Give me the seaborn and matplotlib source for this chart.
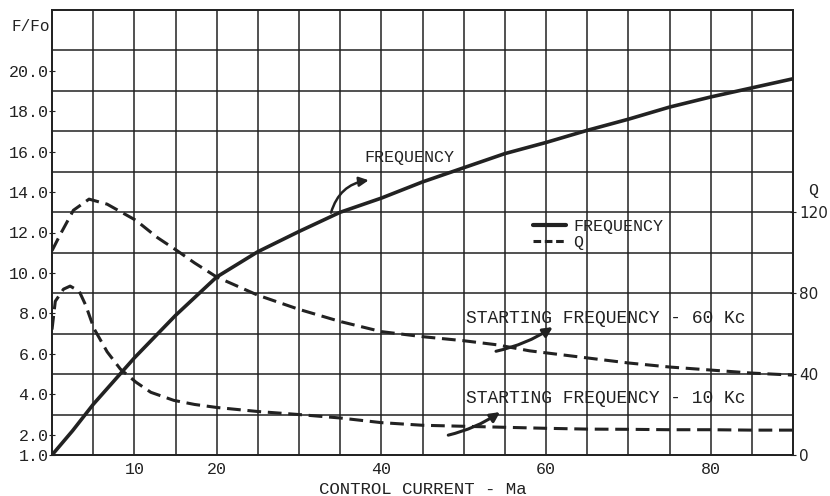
import matplotlib
matplotlib.use("Agg")
import matplotlib.pyplot as plt
import seaborn as sns
import pandas as pd
import numpy as np

sns.set_style("white")
plt.rcParams['font.family'] = ['Liberation Mono', 'DejaVu Sans']

# frequency ratio F/Fo vs control current (mA)
freq_x = [0, 2.5, 5, 10, 15, 20, 25, 30, 35, 40, 45, 50, 55, 60, 65, 70, 75, 80, 85, 90]
freq_f = [1.0, 2.2, 3.5, 5.8, 7.9, 9.8, 11.05, 12.05, 13.0, 13.7, 14.5, 15.2, 15.9,
          16.45, 17.05, 17.6, 18.2, 18.7, 19.15, 19.6]

# Q, starting frequency 60 Kc
q60_x = [0, 1.0, 2.6, 4.5, 6.7, 10.2, 12.8, 15.2, 17.3, 20, 25, 30, 35, 40, 45, 50,
         54, 58, 65, 70, 75, 80, 85, 90]
q60_q = [101, 109, 121, 126.5, 124, 116, 107.5, 101, 95, 88, 79, 72, 66, 61, 58.5,
         56.5, 54.5, 51.5, 48, 45.5, 43.5, 42, 40.5, 39.5]

# Q, starting frequency 10 Kc
q10_x = [0, 0.4, 1.4, 2.2, 3.3, 4.1, 5.1, 6.7, 8.3, 10.2, 12, 14.8, 17.3, 20, 25, 30,
         35, 40, 45, 50, 55, 60, 65, 70, 75, 80, 85, 90]
q10_q = [62, 76, 82, 83.5, 81, 74, 62.5, 51, 42.5, 36, 31, 27, 25, 23.5, 21.5, 20,
         18.3, 16, 14.7, 14.2, 13.7, 13.2, 12.8, 12.7, 12.5, 12.5, 12.3, 12.3]

left_ticks = [1, 2, 4, 6, 8, 10, 12, 14, 16, 18, 20]
right_ticks = [0, 40, 80, 120]
x_ticks = [10, 20, 40, 60, 80]

ink = "#222222"

df_f = pd.DataFrame({"current": freq_x, "ratio": freq_f})
df_q60 = pd.DataFrame({"current": q60_x, "Q": q60_q})
df_q10 = pd.DataFrame({"current": q10_x, "Q": q10_q})

fig = plt.figure(figsize=(8.3, 4.96), dpi=100)
ax = fig.add_axes([52 / 830, 1 - 455 / 496, (793 - 52) / 830, (455 - 10) / 496])
ax2 = ax.twinx()

ax.set_xlim(0, 90)
ax.set_ylim(1, 23)
ax2.set_ylim(0, 220)

# grid: every 5 mA, every 2 units of F/Fo (odd values)
for gx in np.arange(5, 90, 5):
    ax.axvline(gx, color=ink, lw=1.1, zorder=1)
for gy in np.arange(3, 23, 2):
    ax.axhline(gy, color=ink, lw=1.1, zorder=1)

sns.lineplot(data=df_f, x="current", y="ratio", ax=ax, color=ink, lw=2.6, zorder=3)
sns.lineplot(data=df_q60, x="current", y="Q", ax=ax2, color=ink, lw=2.2, zorder=3)
sns.lineplot(data=df_q10, x="current", y="Q", ax=ax2, color=ink, lw=2.2, zorder=3)
for ln in ax2.lines:
    ln.set_dashes((4.5, 2.2))

for a in (ax, ax2):
    for s in a.spines.values():
        s.set_color(ink)
        s.set_linewidth(1.3)

ax.set_xticks(x_ticks)
ax.set_xticklabels([str(v) for v in x_ticks], fontsize=12, color=ink)
ax.set_yticks(left_ticks)
ax.set_yticklabels(["%.1f" % v for v in left_ticks], fontsize=12, color=ink)
ax.tick_params(axis="y", direction="inout", length=5, pad=0, color=ink)
ax.tick_params(axis="x", length=0, pad=5)
ax2.set_yticks(right_ticks)
ax2.set_yticklabels([str(v) for v in right_ticks], fontsize=11, color=ink,
                    family=["DejaVu Sans"])
ax2.tick_params(axis="y", direction="inout", length=5, pad=2, color=ink)

ax.set_xlabel("CONTROL CURRENT - Ma", fontsize=12.5, color=ink, labelpad=4)
ax.set_ylabel("")
ax2.set_ylabel("")

ax.text(-0.003, 22.2, "F/Fo", transform=ax.get_yaxis_transform(), ha="right",
        va="center", fontsize=11.5, color=ink)
ax2.text(1.027, 131, "Q", transform=ax2.get_yaxis_transform(), ha="center",
         va="center", fontsize=12, color=ink)

# annotations
ax.annotate("", xy=(38.8, 14.6), xytext=(33.8, 12.85),
            arrowprops=dict(arrowstyle="-|>", color=ink, lw=1.8,
                            connectionstyle="arc3,rad=-0.35", mutation_scale=14))
ax.text(38.0, 15.7, "FREQUENCY", fontsize=12, color=ink, va="center", ha="left")

ax.annotate("", xy=(61.1, 7.4), xytext=(53.6, 6.1),
            arrowprops=dict(arrowstyle="-|>", color=ink, lw=2.2,
                            connectionstyle="arc3,rad=0.1", mutation_scale=14))
ax.text(50.3, 7.75, "STARTING FREQUENCY - 60 Kc", fontsize=13, color=ink,
        va="center", ha="left", zorder=5)

ax.annotate("", xy=(54.7, 3.2), xytext=(47.8, 1.95),
            arrowprops=dict(arrowstyle="-|>", color=ink, lw=2.2,
                            connectionstyle="arc3,rad=0.1", mutation_scale=14))
ax.text(50.3, 3.8, "STARTING FREQUENCY - 10 Kc", fontsize=13, color=ink,
        va="center", ha="left", zorder=5)

# legend
h_solid = plt.Line2D([], [], color=ink, lw=3)
h_dash = plt.Line2D([], [], color=ink, lw=2.2, dashes=(2.5, 1.2))
ax2.legend([h_solid, h_dash], ["FREQUENCY", "Q"], loc="upper left",
           bbox_to_anchor=(0.64, 0.545), frameon=False, fontsize=12,
           handlelength=2.0, handletextpad=0.4, labelspacing=0.05,
           borderaxespad=0, labelcolor=ink)

fig.savefig("out.png", dpi=100, facecolor="white")
